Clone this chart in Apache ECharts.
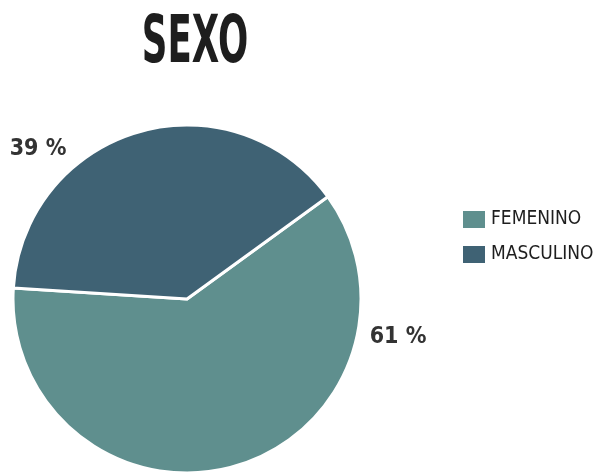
<!DOCTYPE html>
<html>
<head>
<meta charset="utf-8">
<script src="https://cdn.jsdelivr.net/npm/echarts@6/dist/echarts.min.js"></script>
<style>
html,body{margin:0;padding:0;background:#ffffff;}
#chart{width:596px;height:472px;}
</style>
</head>
<body>
<div id="chart"></div>
<script>
var titleText = 'SEXO';
var categories = ['FEMENINO', 'MASCULINO'];
var values = [61, 39];
var colors = ['#5f8f8e', '#3f6274'];

var chart = echarts.init(document.getElementById('chart'));
var labelPos = [[398, 337], [38, 149]];
var narrow = '"DejaVu Sans Condensed", "Liberation Sans Narrow", sans-serif';

chart.setOption({
  backgroundColor: '#ffffff',
  animation: false,
  graphic: [{
    type: 'text',
    x: 195, y: 45,
    scaleX: 0.6,
    style: {
      text: titleText,
      font: 'bold 66px ' + narrow,
      fill: '#1e1e1e',
      align: 'center',
      verticalAlign: 'middle'
    }
  }],
  legend: {
    orient: 'vertical',
    left: 456,
    top: 204,
    itemWidth: 24,
    itemHeight: 19,
    itemGap: 14,
    icon: 'rect',
    data: categories,
    textStyle: {
      fontFamily: narrow,
      fontSize: 19,
      color: '#1e1e1e',
      lineHeight: 20
    }
  },
  series: [{
    type: 'pie',
    center: [187, 299],
    radius: 174,
    startAngle: 36,
    clockwise: true,
    data: categories.map(function (c, i) {
      return { name: c, value: values[i], itemStyle: { color: colors[i] } };
    }),
    itemStyle: { borderColor: '#ffffff', borderWidth: 3 },
    label: {
      show: true,
      position: 'outside',
      formatter: function (p) { return p.value + ' %'; },
      fontFamily: narrow,
      fontWeight: 'bold',
      fontSize: 23,
      color: '#333333'
    },
    labelLine: { show: false },
    labelLayout: function (params) {
      var p = labelPos[params.dataIndex];
      return { x: p[0], y: p[1], align: 'center', verticalAlign: 'middle' };
    },
    emphasis: { disabled: true }
  }]
});
</script>
</body>
</html>
